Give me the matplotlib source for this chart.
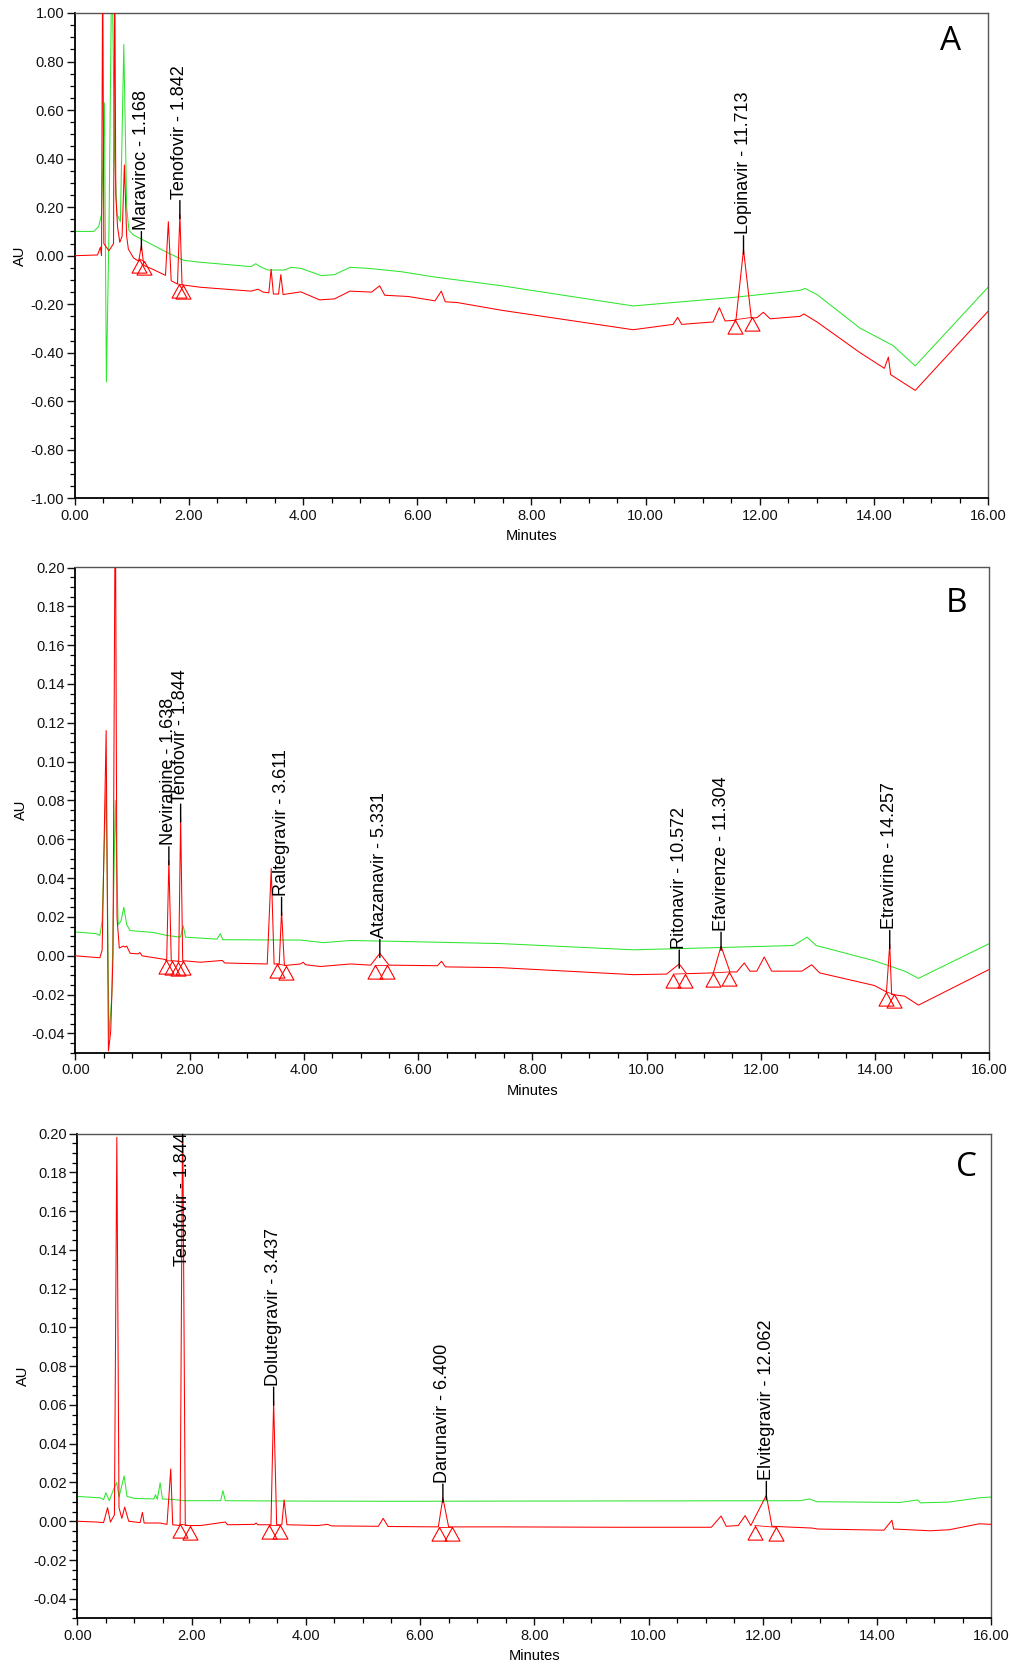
import matplotlib
matplotlib.use("Agg")
import matplotlib.pyplot as plt
from matplotlib.ticker import MultipleLocator, FormatStrFormatter
from matplotlib.transforms import offset_copy, blended_transform_factory

plt.rcParams['font.family'] = ['Liberation Sans', 'DejaVu Sans']

# ---------------- Panel A data ----------------
a_green_t = [0.00, 0.33, 0.42, 0.47, 0.52, 0.555, 0.60, 0.65, 0.70, 0.74, 0.80, 0.86, 0.91, 0.95,
             1.03, 1.27, 1.62, 1.91, 2.20, 3.09, 3.17, 3.25, 3.38, 3.67, 3.79, 3.96, 4.32, 4.55,
             4.82, 5.14, 5.72, 6.31, 7.48, 9.78, 11.53, 12.70, 12.79, 13.00, 13.75, 14.33, 14.72, 16.00]
a_green_v = [0.10, 0.10, 0.12, 0.17, 0.63, -0.52, 0.10, 1.25, 0.40, 0.17, 0.14, 0.87, 0.20, 0.105,
             0.085, 0.056, 0.013, -0.019, -0.027, -0.045, -0.033, -0.045, -0.059, -0.059, -0.048, -0.052, -0.082, -0.078,
             -0.048, -0.052, -0.066, -0.088, -0.124, -0.207, -0.172, -0.143, -0.135, -0.160, -0.298, -0.370, -0.454, -0.129]

a_red_t = [0.00, 0.40, 0.45, 0.47, 0.49, 0.51, 0.60, 0.68, 0.70, 0.72, 0.75, 0.79, 0.83, 0.87, 0.91, 0.94,
           1.03, 1.12, 1.168, 1.21, 1.33, 1.59, 1.64, 1.69, 1.80, 1.842, 1.88, 2.20, 3.09, 3.21, 3.30,
           3.40, 3.44, 3.48, 3.57, 3.61, 3.65, 3.96, 4.29, 4.55, 4.82, 5.20, 5.34, 5.43, 5.84, 6.31,
           6.42, 6.49, 6.70, 7.48, 9.78, 10.48, 10.56, 10.63, 11.18, 11.29, 11.39, 11.58, 11.713, 11.85,
           11.95, 12.06, 12.18, 12.70, 12.77, 13.00, 13.75, 14.18, 14.25, 14.29, 14.72, 16.00]
a_red_v = [0.0, 0.003, 0.035, 0.0, 1.25, 0.05, 0.02, 0.05, 1.25, 0.25, 0.12, 0.055, 0.08, 0.374, 0.08, 0.027,
           -0.009, -0.023, 0.042, -0.040, -0.052, -0.081, 0.14, -0.103, -0.117, 0.17, -0.120, -0.130, -0.146, -0.138, -0.150,
           -0.153, -0.056, -0.158, -0.158, -0.078, -0.160, -0.149, -0.182, -0.178, -0.146, -0.150, -0.124, -0.163, -0.168, -0.186,
           -0.146, -0.190, -0.193, -0.225, -0.305, -0.283, -0.254, -0.283, -0.273, -0.214, -0.269, -0.266, 0.025, -0.258,
           -0.255, -0.233, -0.260, -0.250, -0.240, -0.273, -0.399, -0.464, -0.418, -0.490, -0.555, -0.228]

a_tri_t = [1.13, 1.21, 1.82, 1.90, 11.56, 11.87]
a_tri_v = [-0.013, -0.023, -0.117, -0.121, -0.264, -0.254]

a_labels = ["Maraviroc - 1.168", "Tenofovir - 1.842", "Lopinavir - 11.713"]
a_label_t = [1.168, 1.842, 11.713]
a_label_v = [0.042, 0.17, 0.025]

# ---------------- Panel B data ----------------
b_green_t = [0.00, 0.37, 0.43, 0.47, 0.54, 0.59, 0.64, 0.70, 0.75, 0.80, 0.85, 0.90, 0.96, 1.37, 1.60,
             1.84, 1.89, 1.93, 2.48, 2.54, 2.58, 3.94, 4.35, 4.82, 5.70, 7.45, 9.77, 10.94, 12.57,
             12.81, 12.97, 13.97, 14.52, 14.76, 16.00]
b_green_v = [0.0123, 0.0114, 0.0105, 0.018, 0.090, -0.042, -0.020, 0.080, 0.016, 0.018, 0.025, 0.016, 0.013, 0.012, 0.0105,
             0.0096, 0.0154, 0.0096, 0.0086, 0.0114, 0.0083, 0.0081, 0.0068, 0.0079, 0.0074, 0.0063, 0.0031, 0.0040, 0.0053,
             0.0096, 0.0053, -0.0024, -0.0079, -0.0116, 0.0063]

b_red_t = [0.00, 0.43, 0.47, 0.54, 0.58, 0.62, 0.66, 0.70, 0.73, 0.77, 0.84, 0.87, 0.90, 0.96, 1.10, 1.13,
           1.17, 1.60, 1.638, 1.68, 1.81, 1.844, 1.88, 2.19, 2.57, 2.62, 3.36, 3.43, 3.48, 3.57, 3.611,
           3.66, 3.94, 3.99, 4.03, 4.29, 4.82, 5.17, 5.331, 5.49, 6.34, 6.41, 6.48, 7.45, 9.77, 10.35,
           10.572, 10.70, 11.17, 11.304, 11.46, 11.58, 11.71, 11.81, 11.93, 12.06, 12.19, 12.72, 12.89,
           13.03, 13.99, 14.20, 14.257, 14.29, 14.52, 14.76, 16.00]
b_red_v = [0.0, -0.001, 0.003, 0.116, -0.049, -0.039, 0.0, 0.25, 0.0197, 0.004, 0.005, 0.0045, 0.005, 0.0013, 0.001, 0.0017,
           0.0, -0.002, 0.049, -0.0025, -0.0028, 0.071, -0.0025, -0.0033, -0.0024, -0.0037, -0.0042, 0.045, -0.0042, -0.0042, 0.023,
           -0.005, -0.0042, -0.0033, -0.0046, -0.0055, -0.0042, -0.0048, 0.0013, -0.0048, -0.0051, -0.0028, -0.0057, -0.0061, -0.0097, -0.0094,
           -0.0042, -0.0092, -0.0088, 0.005, -0.0083, -0.0083, -0.0037, -0.0079, -0.0079, -0.0006, -0.0079, -0.0079, -0.0046,
           -0.0088, -0.0153, -0.0186, 0.0059, -0.0199, -0.0208, -0.0254, -0.0070]

b_tri_t = [1.58, 1.69, 1.79, 1.89, 3.53, 3.69, 5.24, 5.45, 10.47, 10.67, 11.16, 11.45, 14.20, 14.33]
b_tri_v = [-0.0024, -0.0027, -0.0030, -0.0028, -0.0042, -0.0050, -0.0048, -0.0048, -0.0094, -0.0092,
           -0.0088, -0.0083, -0.0186, -0.0199]

b_labels = ["Nevirapine - 1.638", "Tenofovir - 1.844", "Raltegravir - 3.611", "Atazanavir - 5.331",
            "Ritonavir - 10.572", "Efavirenze - 11.304", "Etravirine - 14.257"]
b_label_t = [1.638, 1.844, 3.611, 5.331, 10.572, 11.304, 14.257]
b_label_v = [0.049, 0.071, 0.023, 0.0013, -0.0042, 0.005, 0.0059]

# ---------------- Panel C data ----------------
c_green_t = [0.00, 0.40, 0.46, 0.50, 0.56, 0.63, 0.69, 0.73, 0.82, 0.87, 1.00, 1.34, 1.37, 1.40, 1.45,
             1.49, 1.69, 1.87, 2.51, 2.55, 2.59, 3.92, 5.68, 7.44, 12.65, 12.82, 12.94, 14.40, 14.71,
             14.76, 15.26, 15.79, 16.00]
c_green_v = [0.0128, 0.0121, 0.0112, 0.0147, 0.0106, 0.0161, 0.020, 0.0125, 0.0234, 0.0128, 0.0118, 0.0115, 0.0137, 0.0113, 0.0198,
             0.0115, 0.0112, 0.0106, 0.0106, 0.0158, 0.0106, 0.0104, 0.0103, 0.0104, 0.0106, 0.0115, 0.0101, 0.0097, 0.0110,
             0.0095, 0.0099, 0.0121, 0.0125]

c_red_t = [0.00, 0.34, 0.46, 0.53, 0.58, 0.65, 0.692, 0.73, 0.78, 0.83, 0.90, 1.10, 1.14, 1.17, 1.45, 1.57,
           1.636, 1.67, 1.80, 1.844, 1.89, 2.16, 2.59, 2.63, 3.10, 3.13, 3.16, 3.39, 3.437, 3.49, 3.58,
           3.62, 3.67, 4.21, 4.38, 4.45, 5.27, 5.355, 5.44, 6.32, 6.40, 6.50, 7.44, 9.44, 11.10, 11.27,
           11.36, 11.57, 11.69, 11.79, 12.062, 12.16, 12.86, 12.96, 14.12, 14.26, 14.29, 14.93, 15.26,
           15.79, 16.00]
c_red_v = [0.0, -0.0004, -0.0007, 0.007, -0.0004, 0.0033, 0.198, 0.007, 0.0015, 0.0073, 0.0, -0.0007, 0.0046, -0.0009, -0.0009, -0.0016,
           0.027, -0.0018, -0.0022, 0.215, -0.0022, -0.0022, -0.0004, -0.0018, -0.0016, -0.0009, -0.0018, -0.0018, 0.062, -0.0018, -0.0018,
           0.011, -0.0018, -0.0022, -0.0016, -0.0024, -0.0026, 0.0015, -0.0027, -0.0029, 0.012, -0.0029, -0.0029, -0.0031, -0.0031, 0.0027,
           -0.0026, -0.0022, 0.0029, -0.0022, 0.0134, -0.0026, -0.0035, -0.0040, -0.0046, 0.0005, -0.0040, -0.0049, -0.0044,
           -0.0013, -0.0016]

c_tri_t = [1.79, 1.97, 3.36, 3.55, 6.33, 6.56, 11.86, 12.23]
c_tri_v = [-0.0015, -0.0022, -0.0018, -0.0018, -0.0029, -0.0029, -0.0022, -0.0031]

c_labels = ["Tenofovir - 1.844", "Dolutegravir - 3.437", "Darunavir - 6.400", "Elvitegravir - 12.062"]
c_label_t = [1.844, 3.437, 6.400, 12.062]
c_label_v = [0.215, 0.062, 0.012, 0.0134]

panel_letters = ["A", "B", "C"]

# ---------------- Drawing ----------------
W, H = 1012, 1668
fig = plt.figure(figsize=(W / 100, H / 100), dpi=100)

GREEN = '#2ee62e'
RED = '#ff0000'
TRI = [(0, 0), (-0.55, -1), (0.55, -1), (0, 0)]


def px_rect(l, t, r, b):
    return [l / W, 1 - b / H, (r - l) / W, (b - t) / H]


panels = [
    dict(rect=px_rect(74.7, 13.0, 988.3, 498.4), ylim=(-1.0, 1.0), major=0.2, minor=0.05,
         g=(a_green_t, a_green_v), r=(a_red_t, a_red_v), tri=(a_tri_t, a_tri_v),
         lab=(a_labels, a_label_t, a_label_v), letter_xy=(951, 42)),
    dict(rect=px_rect(75.3, 567.5, 989.3, 1052.9), ylim=(-0.05, 0.20), major=0.02, minor=0.005,
         g=(b_green_t, b_green_v), r=(b_red_t, b_red_v), tri=(b_tri_t, b_tri_v),
         lab=(b_labels, b_label_t, b_label_v), letter_xy=(957, 603)),
    dict(rect=px_rect(77.3, 1133.5, 991.3, 1618.2), ylim=(-0.05, 0.20), major=0.02, minor=0.005,
         g=(c_green_t, c_green_v), r=(c_red_t, c_red_v), tri=(c_tri_t, c_tri_v),
         lab=(c_labels, c_label_t, c_label_v), letter_xy=(967, 1167)),
]

for p, letter in zip(panels, panel_letters):
    ax = fig.add_axes(p['rect'])
    ax.plot(p['g'][0], p['g'][1], color=GREEN, lw=0.75, zorder=2)
    ax.plot(p['r'][0], p['r'][1], color=RED, lw=0.75, zorder=3)

    tt, tv = p['tri']
    for i in range(0, len(tt), 2):
        ax.plot(tt[i:i + 2], tv[i:i + 2], color=RED, lw=0.6, zorder=3)
    ax.plot(tt, tv, linestyle='none', marker=TRI, markersize=19.6,
            markerfacecolor='none', markeredgecolor=RED, markeredgewidth=0.8, zorder=4)

    ax.set_xlim(0, 16)
    ax.set_ylim(*p['ylim'])
    ax.xaxis.set_major_locator(MultipleLocator(2))
    ax.xaxis.set_minor_locator(MultipleLocator(0.5))
    ax.yaxis.set_major_locator(MultipleLocator(p['major']))
    ax.yaxis.set_minor_locator(MultipleLocator(p['minor']))
    ax.xaxis.set_major_formatter(FormatStrFormatter('%.2f'))
    ax.yaxis.set_major_formatter(FormatStrFormatter('%.2f'))
    ax.tick_params(axis='y', which='major', direction='out', length=6, width=1.0, pad=1.5,
                   labelsize=10.5, colors='#111111')
    ax.tick_params(axis='y', which='minor', direction='out', length=3.3, width=0.9)
    ax.tick_params(axis='x', which='major', direction='out', length=5, width=1.0, pad=2.5,
                   labelsize=10.5, colors='#111111')
    ax.tick_params(axis='x', which='minor', direction='out', length=3.5, width=0.9)
    for s in ['left', 'bottom']:
        ax.spines[s].set_color('#000000')
        ax.spines[s].set_linewidth(1.3)
    for s in ['top', 'right']:
        ax.spines[s].set_color('#555555')
        ax.spines[s].set_linewidth(1.0)
    ax.set_xlabel('Minutes', fontsize=10.5, labelpad=4.5)
    ax.set_ylabel('AU', fontsize=10.5, labelpad=2.5)

    ytop = p['ylim'][1]
    names, lt, lv = p['lab']
    for name, t, v in zip(names, lt, lv):
        if v >= ytop:
            trans = blended_transform_factory(ax.transData, ax.transAxes)
            ax.text(t, 1.002, name, transform=trans, rotation=90, ha='center', va='top',
                    fontsize=13, color='black', zorder=5)
            continue
        ax.annotate('', xy=(t, v), xytext=(t, v),
                    xycoords=offset_copy(ax.transData, fig=fig, y=-3, units='points'),
                    textcoords=offset_copy(ax.transData, fig=fig, y=10, units='points'),
                    arrowprops=dict(arrowstyle='-', color='black', lw=1.0, shrinkA=0, shrinkB=0),
                    zorder=5)
        ax.annotate(name, xy=(t, v), xytext=(0, 11), textcoords='offset points',
                    rotation=90, ha='center', va='bottom', fontsize=13, color='black',
                    annotation_clip=False, zorder=5)

    lx, ly = p['letter_xy']
    fig.text(lx / W, 1 - ly / H, letter, fontsize=24, family=['Open Sans', 'DejaVu Sans'],
             ha='center', va='center', color='black')

fig.savefig('out.png', dpi=100)
